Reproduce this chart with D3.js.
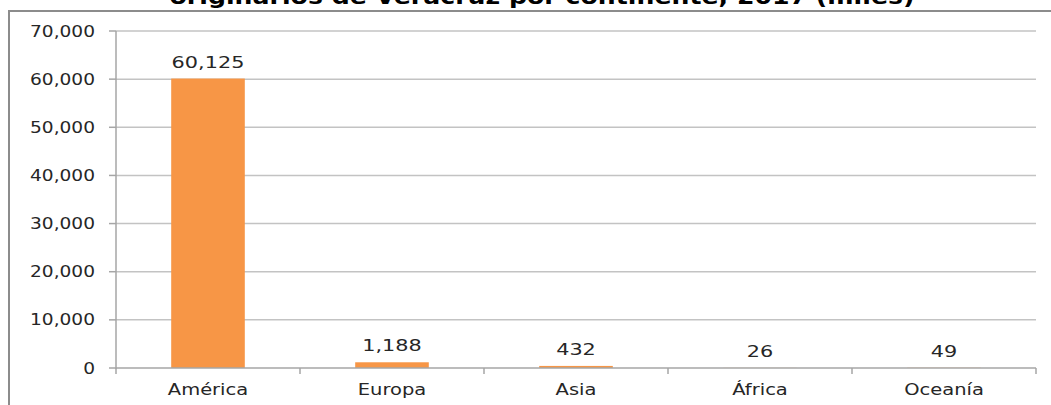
<!DOCTYPE html>
<html lang="es">
<head>
  <meta charset="UTF-8">
  <title>Emigrantes por continente</title>
  <script src="https://d3js.org/d3.v7.min.js"></script>
  <style>
    body { margin: 0; background: #ffffff; }
    svg { display: block; font-family: 'DejaVu Sans', Verdana, sans-serif; }
  </style>
</head>
<body>
<svg width="1051" height="405"></svg>
<script>
const continentes = ["América", "Europa", "Asia", "África", "Oceanía"];
const valores = [60125, 1188, 432, 26, 49];
const ticksY = [0, 10000, 20000, 30000, 40000, 50000, 60000, 70000];
const titulo = "originarios de Veracruz por continente, 2017 (miles)";

const svg = d3.select("svg");
const fmt = d3.format(",");

// marco del gráfico
svg.append("rect")
  .attr("x", 9).attr("y", 11)
  .attr("width", 1060).attr("height", 420)
  .attr("fill", "none")
  .attr("stroke", "#8c8c8c")
  .attr("stroke-width", 2);

// titulo (cortado arriba como en la imagen)
svg.append("text")
  .attr("x", 542).attr("y", 4)
  .attr("text-anchor", "middle")
  .attr("font-weight", "bold")
  .attr("font-size", 22)
  .attr("textLength", 745)
  .attr("lengthAdjust", "spacingAndGlyphs")
  .attr("fill", "#000")
  .text(titulo);

const x = d3.scaleBand().domain(continentes).range([116, 1036]).padding(0);
const y = d3.scaleLinear().domain([0, 70000]).range([368, 31]);

// lineas de cuadricula
svg.append("g")
  .selectAll("line")
  .data(ticksY.filter(d => d > 0))
  .join("line")
  .attr("x1", 116).attr("x2", 1036)
  .attr("y1", d => y(d)).attr("y2", d => y(d))
  .attr("stroke", "#c3c3c3")
  .attr("stroke-width", 1.5);

// eje y
const ejeY = svg.append("g");
ejeY.append("line")
  .attr("x1", 116).attr("x2", 116)
  .attr("y1", y(70000)).attr("y2", y(0) + 1)
  .attr("stroke", "#a6a6a6").attr("stroke-width", 1.5);
ejeY.selectAll("line.tick")
  .data(ticksY)
  .join("line")
  .attr("class", "tick")
  .attr("x1", 109).attr("x2", 116)
  .attr("y1", d => y(d)).attr("y2", d => y(d))
  .attr("stroke", "#a6a6a6").attr("stroke-width", 1.5);
ejeY.selectAll("text")
  .data(ticksY)
  .join("text")
  .attr("transform", d => `translate(95,${y(d) + 5.5}) scale(1.24,1)`)
  .attr("text-anchor", "end")
  .attr("font-size", 15)
  .attr("fill", "#262626")
  .text(d => fmt(d));

// barras
svg.append("g")
  .selectAll("rect")
  .data(valores)
  .join("rect")
  .attr("x", (d, i) => x(continentes[i]) + x.bandwidth() * 0.3)
  .attr("width", x.bandwidth() * 0.4)
  .attr("y", d => y(d))
  .attr("height", d => y(0) - y(d))
  .attr("fill", "#f79646");

// eje x
const ejeX = svg.append("g");
ejeX.append("line")
  .attr("x1", 116).attr("x2", 1036)
  .attr("y1", y(0)).attr("y2", y(0))
  .attr("stroke", "#a6a6a6").attr("stroke-width", 1.5);
ejeX.selectAll("line.tick")
  .data(continentes.concat(["fin"]))
  .join("line")
  .attr("class", "tick")
  .attr("x1", (d, i) => 116 + i * x.step())
  .attr("x2", (d, i) => 116 + i * x.step())
  .attr("y1", y(0)).attr("y2", y(0) + 6)
  .attr("stroke", "#a6a6a6").attr("stroke-width", 1.5);
ejeX.selectAll("text")
  .data(continentes)
  .join("text")
  .attr("transform", d => `translate(${x(d) + x.bandwidth() / 2},395) scale(1.3,1)`)
  .attr("text-anchor", "middle")
  .attr("font-size", 15)
  .attr("fill", "#262626")
  .text(d => d);

// etiquetas de datos
svg.append("g")
  .selectAll("text")
  .data(valores)
  .join("text")
  .attr("transform", (d, i) => `translate(${x(continentes[i]) + x.bandwidth() / 2},${y(d) - 11}) scale(1.3,1)`)
  .attr("text-anchor", "middle")
  .attr("font-size", 16)
  .attr("fill", "#262626")
  .text(d => fmt(d));
</script>
</body>
</html>
